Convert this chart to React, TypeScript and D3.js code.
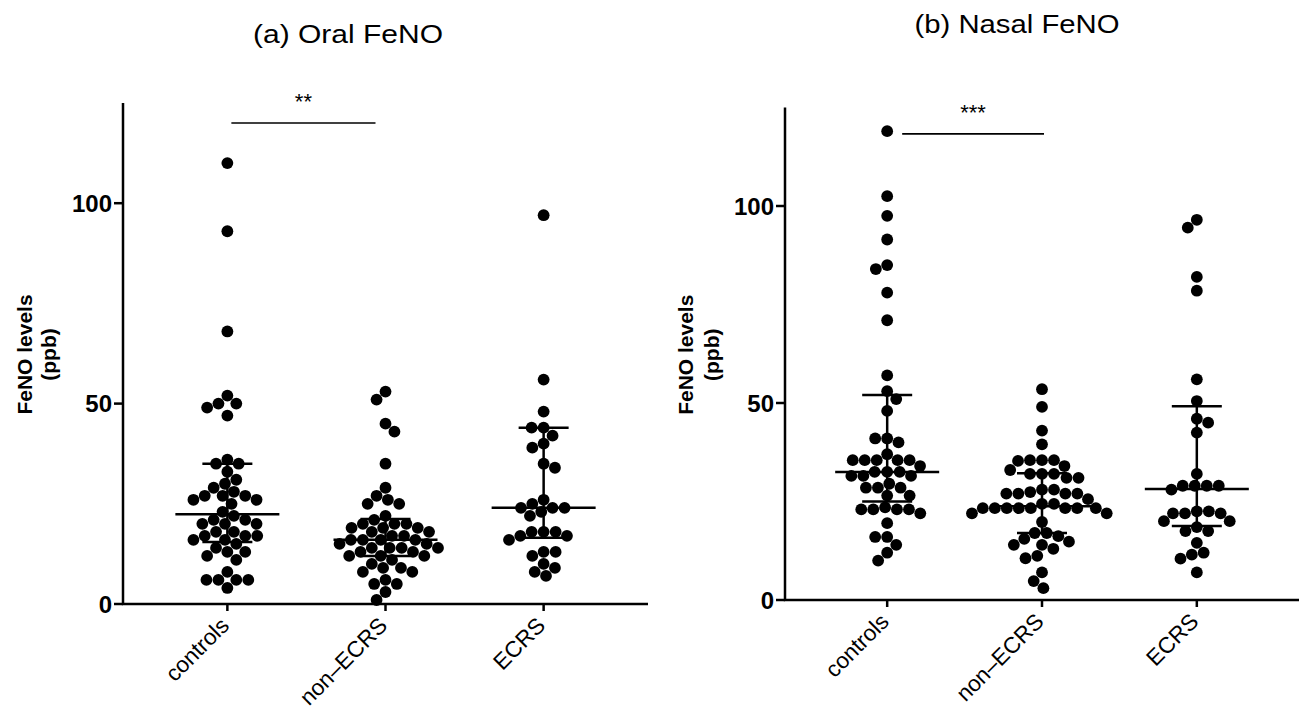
import React from "react";
import * as d3 from "d3";

// ---------------- data ----------------
const categories = ["controls", "non–ECRS", "ECRS"];
const yTicks = [0, 50, 100];

const oralControls = [110, 93, 68, 52, 50, 50, 49, 47, 36, 35, 35, 33, 31, 30, 29, 28, 27, 27, 27, 26, 26, 25, 23, 22, 21, 21, 20, 20, 20, 18, 18, 17, 17, 17, 16, 16, 15, 14, 13, 13, 12, 11, 8, 6, 6, 6, 6, 4];
const oralNonECRS = [53, 51, 45, 43, 35, 29, 27, 26, 25, 25, 22, 21, 20, 20, 20, 19, 19, 19, 18, 18, 17, 17, 16, 16, 16, 16, 15, 15, 14, 14, 14, 14, 13, 13, 12, 12, 12, 11, 10, 9, 9, 8, 8, 6, 5, 5, 3, 1];
const oralECRS = [97, 56, 48, 44, 44, 42, 40, 39, 35, 34, 26, 25, 24, 24, 24, 23, 22, 18, 18, 18, 17, 17, 16, 13, 13, 12, 10, 9, 8, 7];

const nasalControls = [119, 102.5, 97.5, 91.5, 85, 84, 78, 71, 57, 53, 51, 48, 41, 41, 40, 37, 35.5, 35.5, 35.5, 35.5, 35.5, 34, 32.5, 32.5, 32.5, 31.5, 31.5, 31.5, 29.5, 28.5, 28.5, 28.5, 26.5, 26.5, 23.5, 23, 23, 23, 23, 22, 19.5, 16, 16, 14, 12, 10];
const nasalNonECRS = [53.5, 49, 43, 39.5, 35.5, 35.5, 35.5, 35.3, 34, 33, 32, 32, 32, 31, 31, 28, 28, 27.4, 27, 27, 27, 27, 25.6, 24.4, 24.4, 23.3, 23.3, 23.3, 23.3, 23.3, 23.3, 23.3, 23.3, 22, 22, 19.8, 17, 17, 16.2, 15.5, 14.8, 14, 14, 13, 11.2, 10.6, 7, 4.8, 3];
const nasalECRS = [96.5, 94.5, 82, 78.5, 56, 50.5, 46, 45, 42.5, 32, 29, 29, 29, 29, 28, 22.5, 22.5, 22, 22, 22, 20, 20, 18.5, 17.5, 17.5, 14.5, 12, 11.5, 10.5, 7];

// median and interquartile range (as drawn)
const oralMedian = [22.4, 16, 24];
const oralLow = [15.5, 12, 16.5];
const oralHigh = [35, 21.2, 44];
const nasalMedian = [32.5, 23.8, 28.2];
const nasalLow = [25, 17, 18.8];
const nasalHigh = [52, 32.2, 49.2];

// significance
const oralSig = { from: 0, to: 1, level: 120, label: "**" };
const nasalSig = { from: 0, to: 1, level: 118.3, label: "***" };

const titles = ["(a) Oral FeNO", "(b) Nasal FeNO"];
const yLabelLines = ["FeNO levels", "(ppb)"];

// ---------------- helpers ----------------
type Pt = { v: number; y: number; x: number };

function swarm(values: number[], y: (v: number) => number, diam: number): Pt[] {
  const pts: Pt[] = values.map((v) => ({ v, y: y(v), x: 0 }));
  const order = [...pts].sort((a, b) => a.y - b.y);
  const placed: Pt[] = [];
  let flip = 1;
  for (const p of order) {
    const intervals: [number, number][] = [];
    for (const q of placed) {
      const dy = p.y - q.y;
      if (Math.abs(dy) < diam) {
        const w = Math.sqrt(diam * diam - dy * dy);
        intervals.push([q.x - w, q.x + w]);
      }
    }
    const cands = [0];
    intervals.forEach(([a, b]) => cands.push(a, b));
    const free = cands.filter((c) => intervals.every(([a, b]) => c <= a + 1e-6 || c >= b - 1e-6));
    free.sort((a, b) => Math.abs(a) - Math.abs(b) || flip * (a - b));
    p.x = free[0];
    if (Math.abs(free[0]) > 1e-6) flip = -flip;
    placed.push(p);
  }
  return pts;
}

const FONT = "'Liberation Sans', Arial, Helvetica, sans-serif";

type PanelProps = {
  left: number;
  right: number;
  top: number;
  bottom: number;
  series: number[][];
  median: number[];
  low: number[];
  high: number[];
  sig: { from: number; to: number; level: number; label: string };
  sigOffsets: [number, number];
  title: string;
  titleX: number;
  titleY: number;
  titleLen: number;
  labelX: [number, number];
};

function Panel(p: PanelProps) {
  const y = d3.scaleLinear().domain([0, 125]).range([p.bottom, p.top]);
  const x = d3.scalePoint<string>().domain(categories).range([p.left, p.right]).padding(0.66);
  const lw = 2.5;
  const labelY = (p.top + p.bottom) / 2 + 1;
  const sx1 = x(categories[p.sig.from])! + p.sigOffsets[0];
  const sx2 = x(categories[p.sig.to])! + p.sigOffsets[1];
  const sy = y(p.sig.level);
  return (
    <g>
      <text
        x={p.titleX}
        y={p.titleY}
        textAnchor="middle"
        fontFamily={FONT}
        fontSize={26}
        textLength={p.titleLen}
        lengthAdjust="spacingAndGlyphs"
      >
        {p.title}
      </text>
      {/* y label */}
      {yLabelLines.map((t, i) => (
        <text
          key={t}
          transform={`translate(${p.labelX[i]},${labelY}) rotate(-90)`}
          textAnchor="middle"
          fontFamily={FONT}
          fontWeight="bold"
          fontSize={21}
        >
          {t}
        </text>
      ))}
      {/* dots */}
      {p.series.map((vals, i) => {
        const cx = x(categories[i])!;
        return swarm(vals, y, 12).map((pt, j) => (
          <circle key={`${i}-${j}`} cx={cx + pt.x} cy={pt.y} r={5.9} fill="#000" />
        ));
      })}
      {/* median + IQR */}
      {categories.map((c, i) => {
        const cx = x(c)!;
        return (
          <g key={c} stroke="#000" strokeWidth={lw}>
            <line x1={cx} x2={cx} y1={y(p.high[i])} y2={y(p.low[i])} />
            <line x1={cx - 25} x2={cx + 25} y1={y(p.high[i])} y2={y(p.high[i])} />
            <line x1={cx - 25} x2={cx + 25} y1={y(p.low[i])} y2={y(p.low[i])} />
            <line x1={cx - 52} x2={cx + 52} y1={y(p.median[i])} y2={y(p.median[i])} />
          </g>
        );
      })}
      {/* axes */}
      <path
        d={`M${p.left},${y(125)}V${p.bottom}H${p.right}`}
        fill="none"
        stroke="#000"
        strokeWidth={lw}
      />
      {yTicks.map((t) => (
        <g key={t}>
          <line x1={p.left - 9} x2={p.left} y1={y(t)} y2={y(t)} stroke="#000" strokeWidth={lw} />
          <text
            x={p.left - 11}
            y={y(t)}
            dy="0.36em"
            textAnchor="end"
            fontFamily={FONT}
            fontWeight="bold"
            fontSize={24}
          >
            {t}
          </text>
        </g>
      ))}
      {categories.map((c) => (
        <g key={c}>
          <line x1={x(c)} x2={x(c)} y1={p.bottom} y2={p.bottom + 7} stroke="#000" strokeWidth={lw} />
          <text
            transform={`translate(${x(c)! + 3},${p.bottom + 23}) rotate(-45)`}
            textAnchor="end"
            fontFamily={FONT}
            fontSize={22.5}
          >
            {c}
          </text>
        </g>
      ))}
      {/* significance */}
      <line x1={sx1} x2={sx2} y1={sy} y2={sy} stroke="#000" strokeWidth={1.6} />
      <text
        x={(sx1 + sx2) / 2}
        y={sy - 14}
        textAnchor="middle"
        fontFamily={FONT}
        fontSize={22}
      >
        {p.sig.label}
      </text>
    </g>
  );
}

export default function App() {
  return (
    <svg
      width={1303}
      height={711}
      style={{ position: "absolute", left: 0, top: 0, background: "#fff" }}
    >
      <rect width={1303} height={711} fill="#fff" />
      <Panel
        left={123}
        right={648}
        top={103}
        bottom={604}
        series={[oralControls, oralNonECRS, oralECRS]}
        median={oralMedian}
        low={oralLow}
        high={oralHigh}
        sig={oralSig}
        sigOffsets={[4, -10]}
        title={titles[0]}
        titleX={348}
        titleY={43}
        titleLen={190}
        labelX={[32, 56]}
      />
      <Panel
        left={785}
        right={1299}
        top={107.5}
        bottom={600}
        series={[nasalControls, nasalNonECRS, nasalECRS]}
        median={nasalMedian}
        low={nasalLow}
        high={nasalHigh}
        sig={nasalSig}
        sigOffsets={[15, 2]}
        title={titles[1]}
        titleX={1017}
        titleY={33}
        titleLen={205}
        labelX={[693, 719]}
      />
    </svg>
  );
}
